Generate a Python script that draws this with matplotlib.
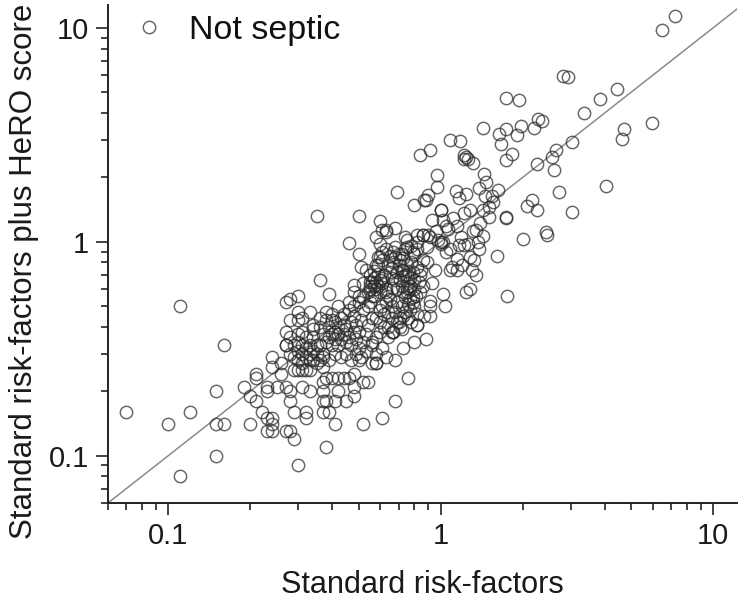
import numpy as np
from matplotlib import pyplot as plt

plt.rcParams['font.family'] = ['Liberation Sans', 'DejaVu Sans']

# values, region by region
low_x = [0.07, 0.11, 0.16, 0.15, 0.12, 0.10, 0.15, 0.16, 0.15, 0.11, 0.19, 0.20, 0.20, 0.21, 0.21, 0.21, 0.22, 0.24, 0.24, 0.23,
         0.23, 0.24, 0.23, 0.24, 0.23, 0.24, 0.27, 0.28, 0.29, 0.30, 0.38, 0.29, 0.32, 0.32, 0.41, 0.52, 0.61, 0.68, 0.76]
low_y = [0.16, 0.50, 0.33, 0.20, 0.16, 0.14, 0.14, 0.14, 0.10, 0.08, 0.21, 0.14, 0.19, 0.24, 0.23, 0.18, 0.16, 0.29, 0.26, 0.21,
         0.20, 0.15, 0.15, 0.14, 0.13, 0.13, 0.13, 0.13, 0.12, 0.09, 0.11, 0.16, 0.16, 0.15, 0.14, 0.14, 0.15, 0.18, 0.23]

band_x = [0.37, 0.39, 0.38, 0.37, 0.41, 0.45, 0.48, 0.37, 0.42, 0.33, 0.31, 0.28, 0.28, 0.27, 0.25, 0.26, 0.26, 0.27, 0.27,
          0.27, 0.28, 0.30, 0.36, 0.39, 0.48, 0.48, 0.33, 0.30, 0.28, 0.30, 0.31, 0.34]
band_y = [0.16, 0.16, 0.18, 0.18, 0.18, 0.18, 0.19, 0.20, 0.20, 0.20, 0.21, 0.18, 0.20, 0.21, 0.21, 0.24, 0.27, 0.33, 0.38,
          0.52, 0.54, 0.56, 0.66, 0.57, 0.63, 0.58, 0.47, 0.47, 0.43, 0.43, 0.44, 0.41]

cluster_a_x = [0.27, 0.28, 0.29, 0.29, 0.30, 0.30, 0.30, 0.31, 0.31, 0.31, 0.32, 0.32, 0.32, 0.33, 0.33, 0.34, 0.34, 0.35, 0.35,
               0.29, 0.30, 0.31, 0.33, 0.36, 0.28, 0.30, 0.31, 0.32, 0.34, 0.36, 0.37, 0.37]
cluster_a_y = [0.33, 0.30, 0.29, 0.33, 0.28, 0.31, 0.34, 0.27, 0.30, 0.33, 0.29, 0.32, 0.25, 0.30, 0.33, 0.28, 0.31, 0.30, 0.33,
               0.25, 0.25, 0.25, 0.25, 0.28, 0.36, 0.37, 0.38, 0.36, 0.36, 0.33, 0.30, 0.26]

cluster_b_x = [0.36, 0.37, 0.38, 0.38, 0.39, 0.39, 0.40, 0.40, 0.40, 0.41, 0.41, 0.41, 0.42, 0.42, 0.42, 0.43, 0.43, 0.44, 0.44, 0.45,
               0.45, 0.46, 0.46, 0.47, 0.47, 0.48, 0.48, 0.49, 0.49, 0.50, 0.50, 0.51, 0.52, 0.52, 0.53, 0.54, 0.55, 0.56, 0.38, 0.40,
               0.42, 0.44, 0.46, 0.48, 0.37, 0.48, 0.50, 0.52, 0.54, 0.56, 0.58]
cluster_b_y = [0.40, 0.37, 0.34, 0.43, 0.36, 0.40, 0.33, 0.37, 0.46, 0.35, 0.38, 0.42, 0.33, 0.37, 0.40, 0.35, 0.44, 0.37, 0.41, 0.34,
               0.39, 0.36, 0.48, 0.33, 0.42, 0.38, 0.45, 0.35, 0.41, 0.32, 0.38, 0.43, 0.34, 0.48, 0.37, 0.41, 0.52, 0.34, 0.23, 0.23,
               0.23, 0.23, 0.23, 0.24, 0.22, 0.21, 0.28, 0.22, 0.22, 0.27, 0.27]

cluster_d_x = [0.46, 0.50, 0.51, 0.53, 0.55, 0.55, 0.56, 0.56, 0.57, 0.57, 0.58, 0.58, 0.58, 0.59, 0.59, 0.60, 0.60, 0.61, 0.61, 0.62,
               0.63, 0.64, 0.64, 0.66, 0.67, 0.68, 0.68, 0.58, 0.63, 0.60, 0.52, 0.54]
cluster_d_y = [0.99, 0.88, 0.76, 0.74, 0.60, 0.70, 0.56, 0.65, 0.62, 0.68, 0.60, 0.65, 1.05, 0.62, 0.71, 0.58, 0.66, 0.64, 0.82, 0.70,
               1.11, 0.56, 0.78, 0.75, 0.61, 0.94, 0.66, 0.78, 0.92, 0.85, 0.64, 0.58]

cluster_e_x = [0.66, 0.68, 0.69, 0.70, 0.71, 0.72, 0.72, 0.73, 0.73, 0.74, 0.74, 0.75, 0.75, 0.76, 0.76, 0.77, 0.78, 0.79, 0.80, 0.80,
               0.82, 0.82, 0.84, 0.86, 0.89, 0.74, 0.82, 0.86, 0.90]
cluster_e_y = [0.68, 0.85, 0.72, 0.78, 0.66, 0.74, 0.62, 0.74, 0.84, 0.70, 1.05, 0.70, 0.78, 0.64, 0.73, 0.68, 0.80, 0.72, 0.66, 0.88,
               0.76, 0.92, 0.70, 0.82, 0.80, 0.92, 1.08, 1.08, 1.08]

cluster_f_x = [0.58, 0.60, 0.60, 0.61, 0.62, 0.63, 0.64, 0.64, 0.65, 0.66, 0.66, 0.67, 0.68, 0.69, 0.70, 0.71, 0.72, 0.73, 0.74, 0.74,
               0.75, 0.76, 0.76, 0.77, 0.77, 0.78, 0.79, 0.80, 0.80, 0.82, 0.82, 0.67, 0.72, 0.68, 0.63, 0.61, 0.58, 0.58, 0.73, 0.80,
               0.82, 0.88, 0.91, 0.91, 0.91, 0.93, 1.02, 1.04, 1.08, 0.84, 0.86, 0.87]
cluster_f_y = [0.44, 0.48, 0.42, 0.50, 0.46, 0.52, 0.40, 0.47, 0.54, 0.44, 0.50, 0.38, 0.47, 0.52, 0.42, 0.40, 0.50, 0.45, 0.55, 0.47,
               0.58, 0.51, 0.44, 0.54, 0.48, 0.42, 0.55, 0.50, 0.60, 0.41, 0.46, 0.38, 0.39, 0.28, 0.29, 0.32, 0.30, 0.27, 0.32, 0.34,
               0.41, 0.35, 0.53, 0.50, 0.45, 0.64, 0.57, 0.50, 0.74, 0.58, 0.62, 0.45]

upper_x = [0.35, 0.50, 0.60, 0.60, 0.61, 0.63, 0.68, 0.69, 0.80, 0.87, 0.90, 0.88, 0.84, 0.91, 0.97, 0.97, 0.86, 0.91, 0.89, 1.00,
           1.00, 1.02, 1.05, 1.05, 0.96, 0.95, 1.00, 0.98, 1.08, 1.10, 1.15, 1.20, 1.15, 1.17, 1.26, 1.28, 1.30, 1.33, 1.35, 1.24,
           1.28, 1.22, 0.78, 0.82, 0.72, 0.75]
upper_y = [1.32, 1.32, 1.25, 0.98, 1.14, 1.14, 1.16, 1.71, 1.49, 1.57, 1.66, 1.56, 2.55, 2.70, 2.06, 1.81, 1.08, 1.05, 0.94, 1.41,
           1.00, 1.00, 1.18, 0.90, 1.12, 0.74, 0.98, 1.02, 0.92, 0.76, 0.83, 0.78, 0.74, 0.97, 0.98, 0.85, 0.74, 0.82, 0.70, 0.58,
           0.60, 0.97, 0.96, 1.00, 0.88, 1.02]

top_x = [7.27, 6.50, 2.81, 2.93, 1.73, 1.94, 2.27, 2.35, 1.97, 2.20, 1.43, 1.73, 1.64, 1.90, 1.08, 1.18, 1.66, 1.82, 1.73, 1.22,
         1.24, 1.26, 1.31, 1.22, 2.25, 2.66, 2.57, 3.03, 3.35, 3.83, 4.43, 5.95, 4.70, 4.65, 4.06, 2.61, 2.73, 3.03, 2.17, 2.07,
         2.25, 1.73, 1.74, 2.43, 2.46, 2.00]
top_y = [11.4, 9.80, 5.96, 5.88, 4.69, 4.60, 3.76, 3.68, 3.47, 3.41, 3.41, 3.35, 3.20, 3.17, 3.00, 2.97, 2.85, 2.58, 2.40, 2.55,
         2.50, 2.44, 2.34, 2.45, 2.30, 2.70, 2.50, 2.92, 3.98, 4.67, 5.20, 3.60, 3.35, 3.03, 1.83, 2.17, 1.71, 1.38, 1.57, 1.47,
         1.40, 1.30, 1.29, 1.11, 1.08, 1.03]

near_diag_x = [1.14, 1.24, 1.17, 1.44, 1.47, 1.38, 1.63, 1.45, 1.54, 1.55, 1.43, 1.51, 1.00, 0.93, 1.11, 1.02, 1.28, 1.22, 1.15, 1.35,
               1.43, 1.37, 1.38, 1.61, 1.75, 1.40, 1.50, 1.31, 1.19, 1.06]
near_diag_y = [1.73, 1.68, 1.61, 2.08, 1.91, 1.79, 1.75, 1.63, 1.63, 1.54, 1.41, 1.31, 1.41, 1.27, 1.29, 1.27, 1.41, 1.37, 1.18, 1.14,
               1.06, 1.00, 0.92, 0.86, 0.56, 1.22, 1.45, 1.12, 1.05, 1.15]

# second pass over the darkest parts of the cloud
dense_x = [0.33, 0.34, 0.35, 0.36, 0.37, 0.38, 0.39, 0.40, 0.41, 0.42, 0.43, 0.44, 0.45, 0.46, 0.47, 0.48, 0.49, 0.50, 0.51, 0.53,
           0.55, 0.56, 0.57, 0.58, 0.59, 0.60, 0.61, 0.62, 0.63, 0.64, 0.65, 0.66, 0.67, 0.69, 0.70, 0.71, 0.73, 0.75, 0.77, 0.79,
           0.55, 0.57, 0.59, 0.61, 0.63, 0.65, 0.67, 0.69, 0.71, 0.73, 0.75, 0.77, 0.79, 0.81, 0.83, 0.85, 0.50, 0.52, 0.54, 0.56]
dense_y = [0.28, 0.39, 0.27, 0.44, 0.29, 0.47, 0.28, 0.43, 0.30, 0.50, 0.29, 0.46, 0.30, 0.52, 0.28, 0.50, 0.30, 0.56, 0.29, 0.31,
           0.62, 0.33, 0.56, 0.36, 0.85, 0.38, 0.90, 0.40, 0.58, 0.36, 0.86, 0.38, 0.90, 0.42, 0.88, 0.44, 0.58, 0.95, 0.60, 0.52,
           0.65, 0.73, 0.78, 0.68, 0.60, 0.72, 0.80, 0.60, 0.82, 0.69, 0.61, 0.62, 0.90, 0.56, 0.65, 0.74, 0.52, 0.55, 0.50, 0.44]

line_ends = [0.06, 12.25]
x_ticks = [0.1, 1, 10]
y_ticks = [0.1, 1, 10]
tick_labels = ['0.1', '1', '10']

if __name__ == '__main__':
    x = np.concatenate([low_x, band_x, cluster_a_x, cluster_b_x, cluster_d_x, cluster_e_x, cluster_f_x, upper_x, top_x, near_diag_x, dense_x])
    y = np.concatenate([low_y, band_y, cluster_a_y, cluster_b_y, cluster_d_y, cluster_e_y, cluster_f_y, upper_y, top_y, near_diag_y, dense_y])

    fig = plt.figure(figsize=(7.5, 6.05), dpi=100)
    ax = fig.add_axes([108 / 750, 1 - 503 / 605, (737 - 108) / 750, (503 - 5) / 605])

    ax.plot(line_ends, line_ends, color='#8a8a8a', lw=1.1, zorder=1)
    ax.plot(x, y, 'o', mfc='none', mec='#2a2a2a', mew=1.05, ms=8.9, alpha=0.72,
            label='Not septic', zorder=2)

    ax.set_xscale('log')
    ax.set_yscale('log')
    ax.set_xlim(0.06, 12.25)
    ax.set_ylim(0.06, 12.8)
    ax.set_xticks(x_ticks, tick_labels)
    ax.set_yticks(y_ticks, tick_labels)
    ax.xaxis.set_minor_formatter(plt.NullFormatter())
    ax.yaxis.set_minor_formatter(plt.NullFormatter())
    ax.xaxis.set_minor_locator(plt.LogLocator(base=10, subs=range(2, 10)))
    ax.yaxis.set_minor_locator(plt.LogLocator(base=10, subs=range(2, 10)))

    ax.spines['top'].set_visible(False)
    ax.spines['right'].set_visible(False)
    ax.spines['left'].set_linewidth(1.4)
    ax.spines['bottom'].set_linewidth(1.4)
    ax.spines['left'].set_color('#222222')
    ax.spines['bottom'].set_color('#222222')
    ax.tick_params(which='major', length=8.5, width=1.2, color='#222222', labelsize=21, labelcolor='#1a1a1a', pad=5)
    ax.tick_params(which='minor', length=5, width=1.2, color='#222222')

    ax.set_xlabel('Standard risk-factors', fontsize=22.1, color='#1a1a1a', labelpad=14.5)
    ax.set_ylabel('Standard risk-factors plus HeRO score', fontsize=22.5, color='#1a1a1a', labelpad=7, y=0.466)

    ax.legend(loc='upper left', bbox_to_anchor=(0.0064, 1.0), frameon=False, fontsize=24.5,
              handletextpad=0.37, handlelength=1.6, borderaxespad=0.1, borderpad=0.18, labelcolor='#111111')

    plt.savefig('out.png', dpi=100)
